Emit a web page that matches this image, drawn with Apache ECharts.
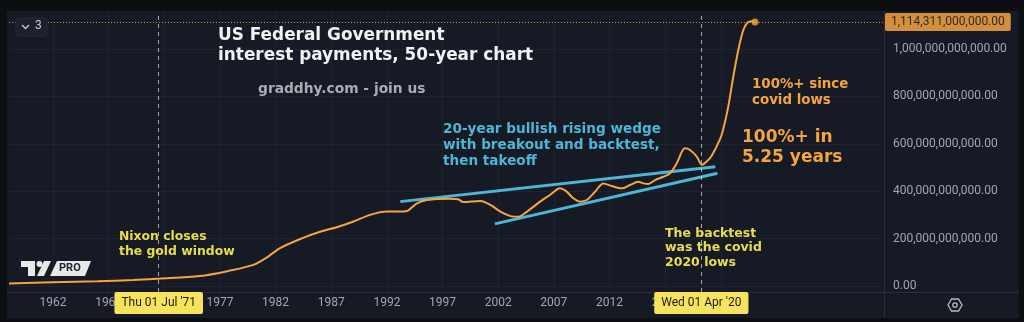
<!DOCTYPE html>
<html>
<head>
<meta charset="utf-8">
<title>US Federal Government interest payments</title>
<script src="https://cdn.jsdelivr.net/npm/echarts@6/dist/echarts.min.js"></script>
<style>
  html, body { margin: 0; padding: 0; background: #0d0e11; }
  #chart { width: 1024px; height: 322px; }
</style>
</head>
<body>
<div id="chart"></div>
<script>
// Interest payments (billions of US dollars) by fractional year
const years = [
  1958.05, 1962.0, 1966.0, 1969.2, 1971.5, 1975.2, 1977.9, 1980.0, 1981.2, 1982.4,
  1984.35, 1986.0, 1987.5, 1988.95, 1990.5, 1992.0, 1993.45, 1993.9, 1994.7, 1995.6,
  1997.7, 1998.4, 1998.85, 2000.4, 2001.3, 2002.2, 2003.1, 2003.8, 2004.6, 2005.76,
  2006.65, 2007.55, 2008.15, 2008.75, 2009.35, 2009.95, 2010.7, 2011.44, 2012.2, 2013.1,
  2013.84, 2014.59, 2015.04, 2015.49, 2016.09, 2016.83, 2017.44, 2018.04, 2018.78, 2019.23,
  2019.84, 2020.3, 2020.73, 2021.18, 2021.93, 2022.2, 2022.67, 2023.12, 2023.57, 2024.02,
  2024.38, 2024.77, 2025.07
];
const payments = [
  11, 16, 20, 25, 31, 42, 65, 89, 120, 160,
  201, 229, 248, 271, 300, 314, 314, 318, 349, 363,
  368, 366, 354, 359, 342, 314, 295, 292, 314, 356,
  384, 412, 398, 370, 356, 363, 398, 433, 422, 412,
  426, 440, 433, 430, 447, 461, 476, 518, 581, 574,
  546, 511, 525, 550, 620, 658, 757, 883, 996, 1080,
  1111, 1117, 1114.311
];

// Rising wedge trendlines (billions)
const wedgeUpperYears = [1993.2, 2021.5];
const wedgeUpperValues = [356, 503];
const wedgeLowerYears = [2001.7, 2021.7];
const wedgeLowerValues = [262, 476];

// Highlighted dates
const eventYears = [1971.5, 2020.25];
const eventLabels = ["Thu 01 Jul '71", "Wed 01 Apr '20"];

// Axis ticks
const xTickYears = [1962, 1967, 1972, 1977, 1982, 1987, 1992, 1997, 2002, 2007, 2012, 2017, 2022];
const yTickBillions = [0, 200, 400, 600, 800, 1000];

const B = 1e9;
const toPairs = (xs, ys) => xs.map((x, i) => [x, ys[i] * B]);
const fmtMoney = v => Math.round(v).toLocaleString('en-US', { minimumFractionDigits: 2, maximumFractionDigits: 2 });

const lastYear = years[years.length - 1];
const lastValue = payments[payments.length - 1] * B;

const ORANGE = '#f5a53f';
const CYAN = '#4db6d6';
const YELLOW = '#e9de4a';
const AXIS_TEXT = '#a3a6af';
const GRID_LINE = '#1f2330';
const FONT = 'Roboto';
const ANNOT_FONT = '"DejaVu Sans"';

const chart = echarts.init(document.getElementById('chart'), null, { renderer: 'canvas' });

const annotation = (left, top, text, color, size, lh) => ({
  type: 'text', left, top, z: 50,
  style: { text, fill: color, font: `bold ${size}px ${ANNOT_FONT}`, lineHeight: lh }
});

chart.setOption({
  backgroundColor: '#161a25',
  animation: false,
  grid: { left: 9, right: 140, top: 12, bottom: 30 },
  xAxis: {
    type: 'value',
    min: 1958.05,
    max: 2036.66,
    axisLine: { show: false },
    axisTick: { show: false, customValues: xTickYears },
    axisLabel: {
      customValues: xTickYears,
      formatter: v => String(v),
      color: AXIS_TEXT, fontFamily: FONT, fontSize: 12, margin: 5
    },
    splitLine: { show: true, lineStyle: { color: GRID_LINE, width: 1 } }
  },
  yAxis: {
    type: 'value',
    position: 'right',
    min: -25.3 * B,
    max: 1156.1 * B,
    axisLine: { show: false },
    axisTick: { show: false, customValues: yTickBillions.map(v => v * B) },
    axisLabel: {
      customValues: yTickBillions.map(v => v * B),
      formatter: fmtMoney,
      color: AXIS_TEXT, fontFamily: FONT, fontSize: 12, margin: 9
    },
    splitLine: { show: true, lineStyle: { color: GRID_LINE, width: 1 } }
  },
  series: [
    {
      type: 'line',
      name: 'Interest payments',
      data: toPairs(years, payments),
      showSymbol: false,
      smooth: 0.3,
      lineStyle: { color: ORANGE, width: 2 },
      z: 5,
      markLine: {
        silent: true,
        symbol: ['none', 'none'],
        animation: false,
        data: [
          ...eventYears.map((y, i) => ({
            xAxis: y,
            lineStyle: { color: 'rgba(215,215,215,0.75)', type: [4, 4], width: 1 },
            label: {
              show: true, position: 'start', distance: 0,
              formatter: eventLabels[i],
              backgroundColor: '#f8e45c', color: '#1a1a1a',
              fontFamily: FONT, fontSize: 12, padding: [5, 7], borderRadius: 2
            }
          })),
          {
            yAxis: lastValue,
            lineStyle: { color: ORANGE, type: [1, 2], width: 1, opacity: 0.85 },
            label: {
              show: true, position: 'end', distance: 1,
              formatter: fmtMoney(lastValue),
              backgroundColor: ORANGE, color: '#131722',
              fontFamily: FONT, fontSize: 12, padding: [3, 6], borderRadius: 2
            }
          }
        ]
      }
    },
    {
      type: 'line', name: 'Wedge upper',
      data: toPairs(wedgeUpperYears, wedgeUpperValues),
      showSymbol: false, lineStyle: { color: CYAN, width: 3 }, z: 4
    },
    {
      type: 'line', name: 'Wedge lower',
      data: toPairs(wedgeLowerYears, wedgeLowerValues),
      showSymbol: false, lineStyle: { color: CYAN, width: 3 }, z: 4
    },
    {
      type: 'scatter', name: 'Latest',
      data: [[lastYear, lastValue]],
      symbolSize: 7, itemStyle: { color: ORANGE }, z: 6
    }
  ],
  graphic: [
    // outer frame around the pane
    { type: 'rect', shape: { x: 0, y: 0, width: 1024, height: 11 }, style: { fill: '#0d0e11' }, z: 100 },
    { type: 'rect', shape: { x: 0, y: 0, width: 7, height: 322 }, style: { fill: '#0d0e11' }, z: 100 },
    { type: 'rect', shape: { x: 1019, y: 0, width: 5, height: 322 }, style: { fill: '#0d0e11' }, z: 100 },
    { type: 'rect', shape: { x: 0, y: 318, width: 1024, height: 4 }, style: { fill: '#0d0e11' }, z: 100 },
    // separators between pane, price scale and time scale
    { type: 'line', shape: { x1: 884.5, y1: 11, x2: 884.5, y2: 318 }, style: { stroke: '#2a2e39', lineWidth: 1 }, z: 20 },
    { type: 'line', shape: { x1: 7, y1: 292.5, x2: 1019, y2: 292.5 }, style: { stroke: '#2a2e39', lineWidth: 1 }, z: 1 },

    // legend collapse button
    { type: 'rect', shape: { x: 16, y: 18, width: 31, height: 18, r: 3 }, style: { fill: '#1c202b', stroke: '#272b36' }, z: 30 },
    { type: 'polyline', shape: { points: [[22, 25], [25.5, 28.5], [29, 25]] }, style: { stroke: '#c8cad0', lineWidth: 1.3, fill: null }, z: 31 },
    { type: 'text', left: 35, top: 20, style: { text: '3', fill: '#c8cad0', font: `12px ${FONT}` }, z: 31 },

    // logo
    { type: 'polygon', shape: { points: [[21, 261], [35, 261], [35, 276], [28, 276], [28, 267], [21, 267]] }, style: { fill: '#e8e8e8' }, z: 30 },
    { type: 'circle', shape: { cx: 39.5, cy: 264, r: 3 }, style: { fill: '#e8e8e8' }, z: 30 },
    { type: 'polygon', shape: { points: [[37, 276], [44, 261], [51, 261], [44, 276]] }, style: { fill: '#e8e8e8' }, z: 30 },
    { type: 'polygon', shape: { points: [[50, 276], [57, 261], [91, 261], [85, 276]] }, style: { fill: '#e8e8e8' }, z: 30 },
    { type: 'text', left: 59, top: 263, style: { text: 'PRO', fill: '#222631', font: `bold 11px ${FONT}` }, z: 31 },

    // settings icon
    { type: 'polygon', shape: { points: [[948, 305], [951.5, 299], [958.5, 299], [962, 305], [958.5, 311], [951.5, 311]] }, style: { fill: null, stroke: '#b8bbc3', lineWidth: 1.3 }, z: 30 },
    { type: 'circle', shape: { cx: 955, cy: 305, r: 2.2 }, style: { fill: null, stroke: '#b8bbc3', lineWidth: 1.3 }, z: 30 },

    // annotations
    annotation(218, 26, 'US Federal Government\ninterest payments, 50-year chart', '#f2f2f2', 16.9, 20),
    { type: 'text', left: 258, top: 80, z: 50, style: { text: 'graddhy.com - join us', fill: '#a9acb4', font: `bold 13.8px ${ANNOT_FONT}`, lineHeight: 18 } },
    annotation(443, 121, '20-year bullish rising wedge\nwith breakout and backtest,\nthen takeoff', CYAN, 13.6, 16),
    annotation(752, 77, '100%+ since\ncovid lows', ORANGE, 13.4, 16),
    annotation(742, 127, '100%+ in\n5.25 years', ORANGE, 17, 20.5),
    annotation(119, 229, 'Nixon closes\nthe gold window', YELLOW, 12.4, 15),
    annotation(665, 226, 'The backtest\nwas the covid\n2020 lows', YELLOW, 12.5, 14.5)
  ]
});
</script>
</body>
</html>
